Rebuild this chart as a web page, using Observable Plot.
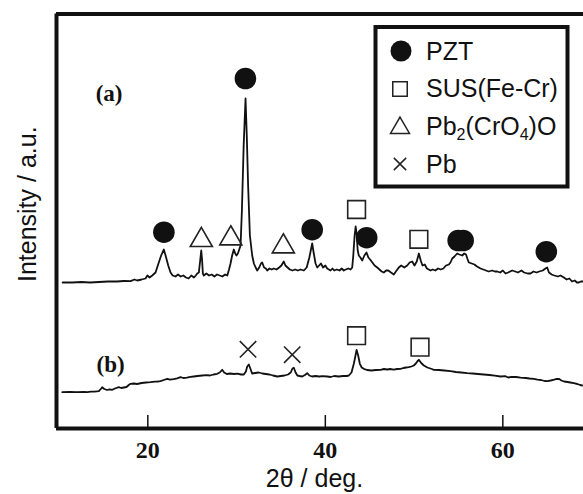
<!DOCTYPE html>
<html><head><meta charset="utf-8">
<script src="https://cdn.jsdelivr.net/npm/d3@7"></script>
<script src="https://cdn.jsdelivr.net/npm/@observablehq/plot@0.6"></script>
<style>
html,body{margin:0;padding:0;background:#fff;}
#wrap{position:relative;width:583px;height:494px;}
#legend{position:absolute;left:0;top:0;pointer-events:none;}
</style></head><body><div id="wrap"></div>
<script>
// 2θ (deg) vs intensity (arbitrary units)
const traceA = [[10.4,143],[11.5,143],[12.5,143.5],[13.5,143],[14.5,143.5],[15.5,144],[16.5,144],[17.3,144.5],[18.05,144.3],[18.5,146],[18.8,145],[19.3,146],[19.74,147],[19.95,150],[20.2,148],[20.5,150],[20.87,153],[21.2,162],[21.5,170],[21.8,176],[22.0,170],[22.3,160],[22.56,153],[22.8,150],[23.12,149],[23.4,151],[23.7,149],[24.0,150],[24.3,148],[24.59,147],[24.9,150],[25.2,148],[25.4,150],[25.57,152],[25.75,153],[25.9,165],[26.02,175],[26.12,165],[26.2,152],[26.31,150],[26.6,152],[26.9,150],[27.2,151],[27.5,149],[27.8,151],[28.1,150],[28.4,149],[28.7,151],[28.95,150],[29.15,156],[29.32,162],[29.5,170],[29.69,176],[29.85,172],[29.99,170],[30.15,172],[30.3,176],[30.45,180],[30.6,215],[30.8,280],[31.01,327],[31.15,290],[31.3,240],[31.5,190],[31.76,170],[31.95,162],[32.15,158],[32.33,155],[32.55,158],[32.75,162],[32.89,163],[33.1,158],[33.3,157],[33.45,155],[33.7,157],[33.95,156],[34.2,157],[34.5,156],[34.8,158],[35.05,160],[35.32,164],[35.5,160],[35.75,158],[36.0,156],[36.3,155],[36.6,156],[36.9,155],[37.2,156],[37.58,155],[37.9,158],[38.2,168],[38.52,182],[38.7,172],[38.9,162],[39.09,158],[39.3,160],[39.5,162],[39.75,158],[40.0,160],[40.21,157],[40.4,156],[40.59,155],[40.8,157],[41.0,155],[41.3,156],[41.6,155],[41.85,157],[42.08,155],[42.3,156],[42.6,157],[42.85,156],[43.03,158],[43.15,170],[43.3,190],[43.42,199],[43.52,192],[43.65,175],[43.77,170],[43.95,168],[44.16,165],[44.4,170],[44.64,173],[44.85,168],[45.05,166],[45.3,163],[45.55,160],[45.85,158],[46.1,156],[46.35,154],[46.59,153],[46.85,155],[47.1,155],[47.4,153],[47.72,151],[47.95,154],[48.28,158],[48.55,160],[48.9,158],[49.23,160],[49.5,163],[49.79,164],[50.05,160],[50.3,164],[50.54,172],[50.75,165],[50.95,160],[51.2,161],[51.45,157],[51.85,155],[52.1,156],[52.4,155],[52.7,157],[53.0,156],[53.3,157],[53.6,160],[53.92,161],[54.1,163],[54.3,167],[54.55,169],[54.86,172],[55.1,171],[55.43,170],[55.65,172],[55.85,171],[56.0,167],[56.17,163],[56.5,162],[56.8,161],[57.1,159],[57.49,157],[57.8,156],[58.1,155],[58.4,154],[58.8,155],[59.1,154],[59.37,154],[59.7,153],[60.0,155],[60.3,152],[60.6,153],[61.06,155],[61.4,154],[61.7,153],[62.1,155],[62.4,153],[62.8,152],[63.12,152],[63.45,154],[63.8,153],[64.1,154],[64.5,155],[64.8,157],[65.0,158],[65.2,153],[65.5,151],[65.8,150],[66.2,149],[66.5,150],[66.87,148],[67.2,146],[67.5,147],[67.8,144],[68.1,145],[68.35,143],[68.56,143],[68.8,144],[69.1,144]];
const traceB = [[10.36,33.3],[11.2,33.5],[12.0,33.3],[12.8,33.6],[13.17,33.3],[13.6,33.8],[14.0,33.8],[14.48,34.3],[14.7,36.5],[14.86,38.3],[15.1,36.5],[15.4,35.5],[15.7,36.2],[15.99,35.7],[16.3,37],[16.73,38.3],[17.0,37.5],[17.3,38],[17.6,38.5],[17.85,40.5],[18.05,41.7],[18.4,42],[18.8,41.5],[19.3,42.5],[19.8,43],[20.3,43.3],[20.8,43.8],[21.1,44],[21.43,44.3],[21.8,45.5],[22.19,46.7],[22.5,45.8],[22.9,46.3],[23.3,47.2],[23.68,48.3],[24.0,47.5],[24.4,47.8],[24.8,48.6],[25.18,49],[25.6,49.5],[26.13,50],[26.6,50.3],[27.0,50],[27.4,51],[27.82,51.7],[28.1,53],[28.38,55.7],[28.6,53],[28.9,51.5],[29.3,52],[29.7,51.5],[30.1,51.8],[30.5,51],[30.82,51],[31.05,54],[31.2,59],[31.38,61],[31.55,57],[31.75,52],[32.1,52.5],[32.5,53],[32.9,52],[33.3,51.5],[33.7,51],[34.1,50],[34.58,49],[35.0,49.5],[35.4,50],[35.8,51],[36.1,53],[36.3,57],[36.45,57.7],[36.65,53],[36.85,50],[37.1,49.5],[37.4,49],[37.7,50.5],[37.96,52.3],[38.2,50],[38.5,49],[38.9,49.5],[39.3,49],[39.7,49.3],[40.21,49],[40.6,48.5],[41.0,49.5],[41.5,49],[42.0,49.5],[42.4,49.5],[42.65,50],[42.95,53],[43.21,61.7],[43.4,70],[43.52,75.7],[43.7,70],[43.89,61.7],[44.1,58],[44.34,56.7],[44.7,55.5],[45.2,55],[45.7,55.5],[46.22,55.7],[46.6,56.5],[47.0,56],[47.3,56.5],[47.7,55.8],[48.1,56.5],[48.47,56.7],[48.8,57.5],[49.1,58],[49.41,58.3],[49.7,59],[49.97,60],[50.2,62],[50.4,64.5],[50.54,65.7],[50.8,62.5],[51.1,60],[51.5,58],[52.0,56.5],[52.23,55.7],[52.8,55.5],[53.4,55],[54.11,54.3],[54.7,53.5],[55.3,53],[55.99,52.3],[56.6,52],[57.2,51.5],[57.86,51],[58.5,50.5],[59.1,49.8],[59.74,49],[60.3,49.3],[60.6,48],[61.0,48.7],[61.5,48.5],[62.0,47.8],[62.6,47.5],[63.0,47],[63.49,46.7],[63.9,45.8],[64.3,45.5],[64.7,44.5],[65.0,44.3],[65.4,45],[65.8,45.8],[66.0,46.5],[66.31,46.7],[66.6,45],[66.9,44],[67.3,43.5],[67.6,43],[68.0,42.3],[68.4,41.5],[68.7,40.5],[68.95,40]];

// phase markers [2θ, height]
const pztMarks = [[21.81,193.3],[31.0,347],[38.52,195.8],[44.66,187.8],[54.97,185],[55.53,185],[64.9,173.8]];
const susMarks = [[43.52,216],[50.54,186.2],[43.52,89.8],[50.67,78.3]];
const pbCrOMarks = [[26.03,185.4],[29.35,187],[35.27,179]];
const pbMarks = [[31.29,76.2],[36.27,70.8]];

const sampleLabels = ["(a)", "(b)"];
const sampleLabelPos = [[15.63,332],[15.8,61]];

const xDomain = [9.71, 69.09];
const yDomain = [-3, 411.5];
const xTicks = [20, 40, 60];
const xLabel = "2θ / deg.";
const yLabel = "Intensity / a.u.";
const legendNames = ["PZT", "SUS(Fe-Cr)", "Pb2(CrO4)O", "Pb"];
const legendSymbols = ["circle", "square", "triangle", "times"];

const ink = "#111";
const chart = Plot.plot({
  width: 583, height: 494,
  marginLeft: 56, marginRight: 0, marginTop: 13.5, marginBottom: 66,
  x: {domain: xDomain},
  y: {domain: yDomain, axis: null},
  style: {background: "white", overflow: "visible", color: ink},
  marks: [
    Plot.ruleY([yDomain[0], yDomain[1]], {stroke: ink, strokeWidth: 4}),
    Plot.ruleX([xDomain[0]], {stroke: ink, strokeWidth: 4}),
    Plot.ruleX(xTicks, {y1: yDomain[0], y2: yDomain[0] + 13, stroke: ink, strokeWidth: 1.5}),
    Plot.axisX({ticks: xTicks, tickSize: 0, tickPadding: 12, tickFormat: d => String(d), label: null,
      fontFamily: "Liberation Serif", fontWeight: "bold", fontSize: 24, fill: ink}),
    Plot.line(traceA, {x: d => d[0], y: d => d[1], stroke: ink, strokeWidth: 1.8}),
    Plot.line(traceB, {x: d => d[0], y: d => d[1], stroke: ink, strokeWidth: 1.8}),
    Plot.dot(pztMarks, {x: d => d[0], y: d => d[1], r: 10.8, fill: ink, stroke: "none"}),
    Plot.dot(susMarks, {x: d => d[0], y: d => d[1], symbol: "square", r: 10, fill: "none", stroke: "#222", strokeWidth: 1.6}),
    Plot.dot(pbCrOMarks, {x: d => d[0], y: d => d[1], symbol: "triangle", r: 8.2, fill: "none", stroke: "#222", strokeWidth: 1.6}),
    Plot.dot(pbMarks, {x: d => d[0], y: d => d[1], symbol: "times", r: 7.5, fill: "none", stroke: "#222", strokeWidth: 1.6}),
    Plot.text(sampleLabels, {x: (d, i) => sampleLabelPos[i][0], y: (d, i) => sampleLabelPos[i][1], text: d => d,
      fontFamily: "Liberation Serif", fontWeight: "bold", fontSize: 23, fill: ink}),
    Plot.text([yLabel], {frameAnchor: "left", textAnchor: "middle", text: d => d, rotate: -90, dx: -29, dy: -17,
      fontFamily: "Liberation Sans", fontSize: 25, fill: ink}),
    Plot.text([xLabel], {frameAnchor: "bottom", textAnchor: "middle", text: d => d, dx: -5.5, dy: 58,
      fontFamily: "Liberation Sans", fontSize: 25, fill: ink})
  ]
});
document.getElementById("wrap").appendChild(chart);

// legend overlay
const svg = d3.select("#wrap").append("svg").attr("id", "legend").attr("width", 583).attr("height", 494);
svg.append("rect").attr("x", 375.5).attr("y", 27).attr("width", 192).attr("height", 159.5)
  .attr("fill", "white").attr("stroke", ink).attr("stroke-width", 4);
const rowSym = [[401, 51], [400, 89], [400, 128], [400, 164]];
const rowBase = [60, 97, 135, 173];
const symMap = {circle: d3.symbolCircle, square: d3.symbolSquare, triangle: d3.symbolTriangle, times: d3.symbolTimes};
const symSize = {circle: Math.PI * 10.5 * 10.5, square: 210, triangle: 156, times: 100};
legendSymbols.forEach((s, i) => {
  svg.append("path").attr("d", d3.symbol(symMap[s], symSize[s])())
    .attr("transform", `translate(${rowSym[i][0]},${rowSym[i][1]})`)
    .attr("fill", s === "circle" ? ink : "none").attr("stroke", s === "circle" ? "none" : "#222").attr("stroke-width", 1.5);
  const t = svg.append("text").attr("x", 426).attr("y", rowBase[i]).attr("font-family", "Liberation Sans")
    .attr("font-size", 25).attr("fill", ink);
  const name = legendNames[i];
  if (name === "Pb2(CrO4)O") {
    t.append("tspan").text("Pb");
    t.append("tspan").attr("font-size", 16).attr("dy", 5).text("2");
    t.append("tspan").attr("dy", -5).text("(CrO");
    t.append("tspan").attr("font-size", 16).attr("dy", 5).text("4");
    t.append("tspan").attr("dy", -5).text(")O");
  } else {
    t.text(name);
  }
});
</script></body></html>
